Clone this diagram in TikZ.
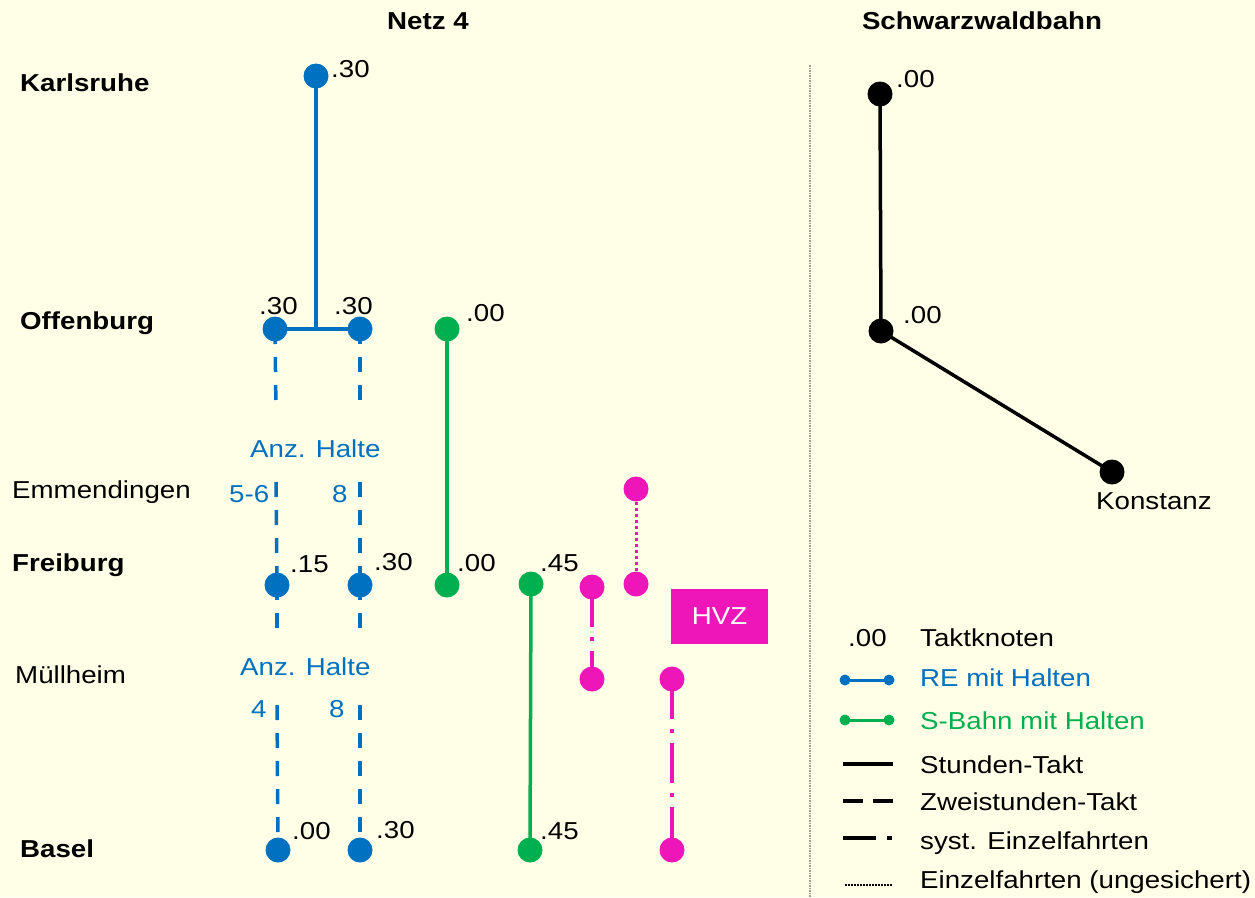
\documentclass[tikz,border=0pt]{standalone}
\usepackage{fontspec}
\setmainfont{Liberation Sans}[FakeStretch=1.13]
\definecolor{bgc}{HTML}{FFFFE8}
\definecolor{reblue}{HTML}{0070C0}
\definecolor{sgreen}{HTML}{00B050}
\definecolor{hvz}{HTML}{EE16B9}
\definecolor{sepgray}{HTML}{A0A090}
\pgfdeclarelayer{bg}
\pgfsetlayers{bg,main}
\tikzset{
  lbl/.style={font=\fontsize{24.5}{28}\selectfont, inner sep=0pt, anchor=base west},
  blbl/.style={font=\fontsize{24.5}{28}\selectfont\bfseries, inner sep=0pt, anchor=base west},
  ttl/.style={font=\fontsize{24.5}{28}\selectfont\bfseries, inner sep=0pt, anchor=base},
  dotnode/.style={circle, fill=#1, inner sep=0pt, minimum size=25pt},
  smalldot/.style={circle, fill=#1, inner sep=0pt, minimum size=11pt},
  ln/.style={draw=#1, line width=3.5pt},
  zwei/.style={dash pattern=on 15pt off 13pt},
  syst/.style={dash pattern=on 40pt off 10pt on 4pt off 10pt},
  unges/.style={dash pattern=on 3pt off 3pt},
}
\begin{document}
\begin{tikzpicture}[x=1pt,y=-1pt]
\begin{pgfonlayer}{bg}
\fill[bgc] (0,0) rectangle (1255,897);
\end{pgfonlayer}
\useasboundingbox (0,0) rectangle (1255,897);

% titles
\node[ttl] (t1) at (428,29) {Netz 4};
\node[ttl] (t2) at (982,29) {Schwarzwaldbahn};

% station labels
\node[blbl] (sK) at (20,91) {Karlsruhe};
\node[blbl] (sO) at (20,329) {Offenburg};
\node[lbl] (sE) at (12,498) {Emmendingen};
\node[blbl] (sF) at (12,571) {Freiburg};
\node[lbl] (sM) at (15,683) {Müllheim};
\node[blbl] (sB) at (20,857) {Basel};

% blue dots
\node[dotnode=reblue] (k) at (316,76) {};
\node[dotnode=reblue] (o1) at (275,329) {};
\node[dotnode=reblue] (o2) at (360,329) {};
\coordinate (oj) at (316,329);
\node[dotnode=reblue] (f1) at (277,585) {};
\node[dotnode=reblue] (f2) at (360,585) {};
\node[dotnode=reblue] (b1) at (278,850) {};
\node[dotnode=reblue] (b2) at (360,850) {};

% green dots
\node[dotnode=sgreen] (go) at (447,329) {};
\node[dotnode=sgreen] (gf) at (447,585) {};
\node[dotnode=sgreen] (gtf) at (531,584) {};
\node[dotnode=sgreen] (gtb) at (530,850) {};

% magenta dots
\node[dotnode=hvz] (m1a) at (592,587) {};
\node[dotnode=hvz] (m1b) at (592,679) {};
\node[dotnode=hvz] (m2a) at (636,489) {};
\node[dotnode=hvz] (m2b) at (636,584) {};
\node[dotnode=hvz] (m3a) at (672,679) {};
\node[dotnode=hvz] (m3b) at (672,850) {};

% gap coordinates
\coordinate (gapLa) at (276,412);
\coordinate (gapLb) at (276,482);
\coordinate (gapRa) at (360,412);
\coordinate (gapRb) at (360,482);
\coordinate (gapLc) at (277,636);
\coordinate (gapLd) at (277,705);
\coordinate (gapRc) at (360,636);
\coordinate (gapRd) at (360,705);

\begin{pgfonlayer}{bg}
\draw[ln=reblue] (k.center) -- (oj);
\draw[ln=reblue] (o1.center) -- (o2.center);
\draw[ln=reblue, zwei] (o1.center) -- (gapLa);
\draw[ln=reblue, zwei] (gapLb) -- (f1.center);
\draw[ln=reblue, zwei] (o2.center) -- (gapRa);
\draw[ln=reblue, zwei] (gapRb) -- (f2.center);
\draw[ln=reblue, zwei] (f1.center) -- (gapLc);
\draw[ln=reblue, zwei] (gapLd) -- (b1.center);
\draw[ln=reblue, zwei] (f2.center) -- (gapRc);
\draw[ln=reblue, zwei] (gapRd) -- (b2.center);
\draw[ln=sgreen] (go.center) -- (gf.center);
\draw[ln=sgreen] (gtf.center) -- (gtb.center);
\draw[ln=hvz, syst] (m1a.center) -- (m1b.center);
\draw[ln=hvz, line width=3pt, unges] (m2a.south) -- (m2b.north);
\draw[ln=hvz, syst] (m3a.center) -- (m3b.center);
\end{pgfonlayer}

% time labels
\node[lbl] (lk) at (331,77) {.30};
\node[lbl] (lo1) at (259,314) {.30};
\node[lbl] (lo2) at (334,314) {.30};
\node[lbl] (lgo) at (466,321) {.00};
\node[lbl] (lf1) at (290,572) {.15};
\node[lbl] (lf2) at (374,570) {.30};
\node[lbl] (lgf) at (457,571) {.00};
\node[lbl] (lg2f) at (540,571) {.45};
\node[lbl] (lb1) at (292,839) {.00};
\node[lbl] (lb2) at (376,838) {.30};
\node[lbl] (lg2b) at (540,839) {.45};

% Anz. Halte
\node[lbl, text=reblue] (ah1) at (250,457) {Anz. Halte};
\node[lbl, text=reblue] (n56) at (229,502) {5-6};
\node[lbl, text=reblue] (n8a) at (332,502) {8};
\node[lbl, text=reblue] (ah2) at (240,675) {Anz. Halte};
\node[lbl, text=reblue] (n4) at (251,717) {4};
\node[lbl, text=reblue] (n8b) at (329,717) {8};

% HVZ box
\node[fill=hvz, text=white, minimum width=97pt, minimum height=55pt, inner sep=0pt,
      font=\fontsize{24.5}{28}\selectfont] (hvzbox) at (719.5,616.5) {HVZ};

% separator
\coordinate (sep1) at (810,65);
\coordinate (sep2) at (810,897);
\draw[sepgray, line width=1.5pt, dash pattern=on 1.5pt off 1pt] (sep1) -- (sep2);

% Schwarzwaldbahn
\node[dotnode=black] (s1) at (880,94) {};
\node[dotnode=black] (s2) at (881,331) {};
\node[dotnode=black] (s3) at (1112,472) {};
\begin{pgfonlayer}{bg}
\draw[ln=black] (s1.center) -- (s2.center);
\draw[ln=black] (s2.center) -- (s3.center);
\end{pgfonlayer}
\node[lbl] (ls1) at (896,87) {.00};
\node[lbl] (ls2) at (903,323) {.00};
\node[lbl] (ls3) at (1096,509) {Konstanz};

% legend
\node[lbl] (lt0) at (848,646) {.00};
\node[lbl] (lt1) at (920,646) {Taktknoten};
\node[lbl, text=reblue] (lt2) at (920,686) {RE mit Halten};
\node[lbl, text=sgreen] (lt3) at (920,729) {S-Bahn mit Halten};
\node[lbl] (lt4) at (920,773) {Stunden-Takt};
\node[lbl] (lt5) at (920,810) {Zweistunden-Takt};
\node[lbl] (lt6) at (920,849) {syst. Einzelfahrten};
\node[lbl] (lt7) at (920,888) {Einzelfahrten (ungesichert)};

\node[smalldot=reblue] (lr1) at (845,680) {};
\node[smalldot=reblue] (lr2) at (889,680) {};
\node[smalldot=sgreen] (lg1) at (845,720) {};
\node[smalldot=sgreen] (lg2) at (889,720) {};
\draw[ln=reblue, line width=3pt] (lr1.center) -- (lr2.center);
\draw[ln=sgreen, line width=3pt] (lg1.center) -- (lg2.center);

\coordinate (ls4a) at (843,764); \coordinate (ls4b) at (893,764);
\coordinate (ls5a) at (843,801); \coordinate (ls5b) at (893,801);
\coordinate (ls6a) at (843,838); \coordinate (ls6b) at (893,838);
\coordinate (ls7a) at (845,885); \coordinate (ls7b) at (893,885);
\draw[ln=black] (ls4a) -- (ls4b);
\draw[ln=black, dash pattern=on 20pt off 10pt on 20pt off 20pt] (ls5a) -- (ls5b);
\draw[ln=black, dash pattern=on 33pt off 11pt on 5pt off 20pt] (ls6a) -- (ls6b);
\draw[black, line width=1.5pt, dash pattern=on 1.5pt off 1.5pt] (ls7a) -- (ls7b);
\end{tikzpicture}
\end{document}
